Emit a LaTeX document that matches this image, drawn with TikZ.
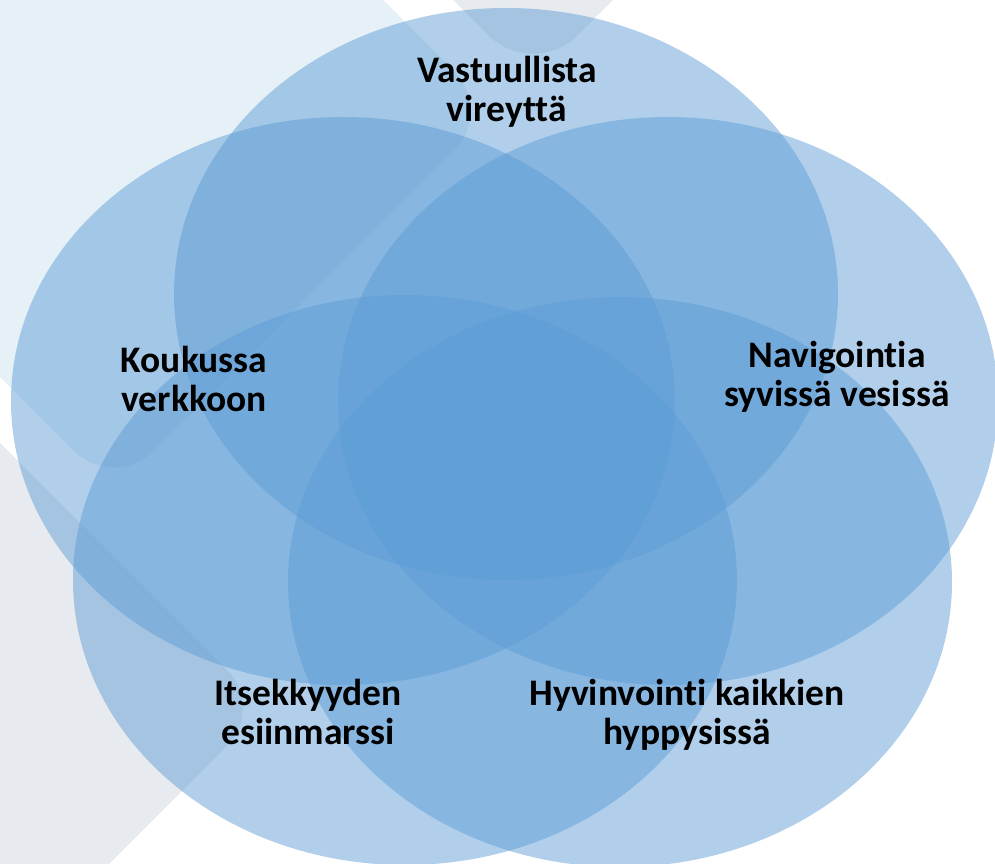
\documentclass[tikz,border=0pt]{standalone}
\usepackage{fontspec}
\setmainfont{Carlito}[RawFeature={-liga;-clig;-dlig;-calt}]
\usepackage{tikz}

\definecolor{ringblue}{RGB}{91,155,213}
\definecolor{paleblue}{RGB}{230,240,247}
\definecolor{palegray}{RGB}{231,235,239}

\begin{document}
\begin{tikzpicture}[x=0.3mm,y=-0.3mm,
	ring/.style={fill=ringblue,fill opacity=0.48},
	theme/.style={font=\fontsize{32}{34}\selectfont\bfseries,align=center,anchor=base,text=black}]
	%\draw[help lines] (0,0) grid[step=100] (995,864);
	\useasboundingbox (0,0) rectangle (995,864);
	\begin{scope}
	\clip (0,0) rectangle (995,864);
	% background tiles
	\fill[paleblue,rounded corners=17mm] (494,111) -- (114,491) -- (-266,111) -- (114,-269) -- cycle;
	\fill[palegray,rounded corners=19mm] (533,80) -- (233,-220) -- (533,-520) -- (833,-220) -- cycle;
	\fill[palegray,rounded corners=16mm] (265,708) -- (-115,1088) -- (-495,708) -- (-115,328) -- cycle;
	% five rings
	\fill[ring] (506,294) circle [x radius=332, y radius=286];
	\fill[ring] (343,401) circle [x radius=332, y radius=284];
	\fill[ring] (668,401) circle [x radius=330, y radius=284];
	\fill[ring] (405,580) circle [x radius=332, y radius=285];
	\fill[ring] (620,582) circle [x radius=332, y radius=285];
	\end{scope}
	\node[theme] (vireys) at (507,122) {Vastuullista\\vireyttä};
	\node[theme] (verkko) at (194,412) {Koukussa\\verkkoon};
	\node[theme] (navi) at (837,407) {Navigointia\\syvissä vesissä};
	\node[theme] (itsek) at (308,745) {Itsekkyyden\\esiinmarssi};
	\node[theme] (hyvin) at (687,745) {Hyvinvointi kaikkien\\hyppysissä};
\end{tikzpicture}
\end{document}
